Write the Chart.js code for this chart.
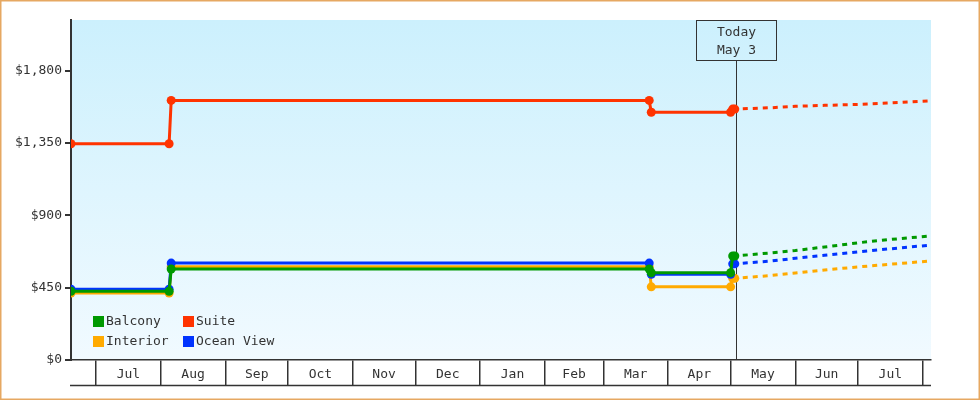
<!DOCTYPE html>
<html>
<head>
<meta charset="utf-8">
<script src="https://cdn.jsdelivr.net/npm/chart.js@4.4.1/dist/chart.umd.min.js"></script>
<style>
  html, body { margin: 0; padding: 0; background: #ffffff; }
  #wrap { width: 980px; height: 400px; }
</style>
</head>
<body>
<div id="wrap"><canvas id="c" width="980" height="400"></canvas></div>
<script>
// ---------- data ----------
const xStart = '2022-06-19';
const xEnd = '2023-08-05';
const todayDate = '2023-05-03';
const todayLines = ['Today', 'May 3'];

const monthStarts = ['2022-07-01','2022-08-01','2022-09-01','2022-10-01','2022-11-01','2022-12-01',
  '2023-01-01','2023-02-01','2023-03-01','2023-04-01','2023-05-01','2023-06-01','2023-07-01','2023-08-01'];
const monthLabels = ['Jul','Aug','Sep','Oct','Nov','Dec','Jan','Feb','Mar','Apr','May','Jun','Jul'];

const yTickValues = [0, 450, 900, 1350, 1800];

const categories = ['Balcony', 'Suite', 'Interior', 'Ocean View'];
const colors = ['#009900', '#ff3300', '#ffaa00', '#0033ff'];

const histDates = ['2022-06-19','2022-08-05','2022-08-06','2023-03-23','2023-03-24','2023-05-01','2023-05-02','2023-05-03'];
const balconyHist  = [428, 428, 566, 566, 543, 543, 647, 647];
const suiteHist    = [1345, 1345, 1615, 1615, 1541, 1541, 1561, 1561];
const interiorHist = [417, 417, 580, 580, 455, 455, 508, 508];
const oceanHist    = [440, 440, 603, 603, 533, 533, 598, 598];

const forecastDates = ['2023-05-03','2023-05-20','2023-06-01','2023-06-15','2023-07-01','2023-07-15','2023-08-05'];
const balconyFc  = [647, 666, 681, 703, 729, 748, 772];
const suiteFc    = [1561, 1569, 1578, 1584, 1590, 1598, 1613];
const interiorFc = [508, 525, 541, 560, 579, 594, 616];
const oceanFc    = [598, 615, 633, 652, 673, 690, 715];

// ---------- helpers ----------
function dayNum(s) {
  const p = s.split('-').map(Number);
  const q = xStart.split('-').map(Number);
  return (Date.UTC(p[0], p[1]-1, p[2]) - Date.UTC(q[0], q[1]-1, q[2])) / 86400000;
}
function pts(dates, vals) { return dates.map((d, i) => ({ x: dayNum(d), y: vals[i] })); }

const boundaryVals = monthStarts.map(dayNum);
const midVals = monthLabels.map((_, i) => (boundaryVals[i] + boundaryVals[i+1]) / 2);
const boundarySet = new Set(boundaryVals);
const midLabelMap = new Map(midVals.map((v, i) => [v, monthLabels[i]]));
const todayX = dayNum(todayDate) + 0.75;

const FONT = '"DejaVu Sans Mono", "Liberation Mono", monospace';
const INK = '#333333';

const histSeries = [balconyHist, suiteHist, interiorHist, oceanHist];
const fcSeries = [balconyFc, suiteFc, interiorFc, oceanFc];
const drawOrder = [1, 0, 3, 2]; // lower = drawn on top

const datasets = [];
categories.forEach((name, i) => {
  datasets.push({
    label: name,
    data: pts(histDates, histSeries[i]),
    borderColor: colors[i],
    backgroundColor: colors[i],
    borderWidth: 3,
    pointRadius: 4.5,
    pointBorderWidth: 0,
    pointBackgroundColor: colors[i],
    pointStyle: 'circle',
    tension: 0,
    order: drawOrder[i]
  });
});
categories.forEach((name, i) => {
  datasets.push({
    label: name + ' forecast',
    data: pts(forecastDates, fcSeries[i]),
    borderColor: colors[i],
    borderWidth: 3,
    borderDash: [5, 5],
    borderDashOffset: 2,
    pointRadius: 0,
    tension: 0,
    order: drawOrder[i] + 4
  });
});

// ---------- plugins ----------
const bgPlugin = {
  id: 'bg',
  beforeDraw(chart) {
    const { ctx, chartArea: a } = chart;
    ctx.save();
    ctx.fillStyle = '#ffffff';
    ctx.fillRect(0, 0, chart.width, chart.height);
    const g = ctx.createLinearGradient(0, a.top, 0, a.bottom);
    g.addColorStop(0, '#ccf0fd');
    g.addColorStop(1, '#f1faff');
    ctx.fillStyle = g;
    ctx.fillRect(a.left, a.top, a.right - a.left, a.bottom - a.top);
    ctx.restore();
  },
  beforeDatasetsDraw(chart) {
    const { ctx, chartArea: a } = chart;
    const x = Math.round(chart.scales.x.getPixelForValue(todayX)) + 0.5;
    ctx.save();
    ctx.strokeStyle = INK;
    ctx.lineWidth = 1;
    ctx.beginPath();
    ctx.moveTo(x, a.top + 40);
    ctx.lineTo(x, a.bottom);
    ctx.stroke();
    ctx.restore();
  },
  afterDraw(chart) {
    const { ctx, chartArea: a } = chart;
    ctx.save();
    // bottom rule of the month strip
    ctx.strokeStyle = INK;
    ctx.lineWidth = 1.5;
    ctx.beginPath();
    ctx.moveTo(a.left - 1, a.bottom + 25.5);
    ctx.lineTo(a.right, a.bottom + 25.5);
    ctx.stroke();
    // today box
    const x = Math.round(chart.scales.x.getPixelForValue(todayX)) + 0.5;
    ctx.lineWidth = 1;
    ctx.strokeRect(x - 40, a.top + 0.5, 80, 40);
    ctx.fillStyle = INK;
    ctx.font = '13px ' + FONT;
    ctx.textAlign = 'center';
    ctx.textBaseline = 'middle';
    ctx.fillText(todayLines[0], x, a.top + 13);
    ctx.fillText(todayLines[1], x, a.top + 31);
    // legend (2 x 2 grid inside plot)
    const legendPos = [[0, 0], [1, 0], [0, 1], [1, 1]];
    ctx.textAlign = 'left';
    categories.forEach((name, i) => {
      const cx = a.left + 22 + legendPos[i][0] * 90;
      const cy = a.bottom - 39 + legendPos[i][1] * 20;
      ctx.fillStyle = colors[i];
      ctx.fillRect(cx, cy - 5, 11, 11);
      ctx.fillStyle = INK;
      ctx.fillText(name, cx + 13, cy + 0.5);
    });
    // outer border
    ctx.strokeStyle = '#e6a862';
    ctx.lineWidth = 1.5;
    ctx.strokeRect(0.75, 0.75, chart.width - 1.5, chart.height - 1.5);
    ctx.restore();
  }
};

new Chart(document.getElementById('c'), {
  type: 'line',
  data: { datasets },
  options: {
    responsive: false,
    animation: false,
    devicePixelRatio: 1,
    layout: { padding: { top: 20, right: 49, left: 0, bottom: 0 } },
    plugins: { legend: { display: false }, tooltip: { enabled: false } },
    scales: {
      x: {
        type: 'linear',
        min: dayNum(xStart),
        max: dayNum(xEnd),
        afterBuildTicks(scale) {
          scale.ticks = boundaryVals.concat(midVals).sort((a, b) => a - b).map(v => ({ value: v }));
        },
        afterFit(scale) { scale.height = 40; },
        border: { display: true, color: INK, width: 1.5 },
        grid: {
          drawOnChartArea: false,
          drawTicks: true,
          tickLength: 25,
          lineWidth: 1.5,
          color: (c) => (c.tick && boundarySet.has(c.tick.value)) ? INK : 'rgba(0,0,0,0)'
        },
        ticks: {
          autoSkip: false,
          maxRotation: 0,
          padding: -18,
          color: INK,
          font: { family: FONT, size: 13 },
          callback: (v) => midLabelMap.has(v) ? midLabelMap.get(v) : ''
        }
      },
      y: {
        type: 'linear',
        min: 0,
        max: 2115,
        afterBuildTicks(scale) { scale.ticks = yTickValues.map(v => ({ value: v })); },
        afterFit(scale) { scale.width = 71; },
        border: { display: true, color: INK, width: 2 },
        grid: { drawOnChartArea: false, drawTicks: true, tickLength: 6, lineWidth: 2, color: INK },
        ticks: {
          padding: 3,
          color: INK,
          font: { family: FONT, size: 13 },
          callback: (v) => '$' + v.toLocaleString('en-US')
        }
      }
    }
  },
  plugins: [bgPlugin]
});
</script>
</body>
</html>
